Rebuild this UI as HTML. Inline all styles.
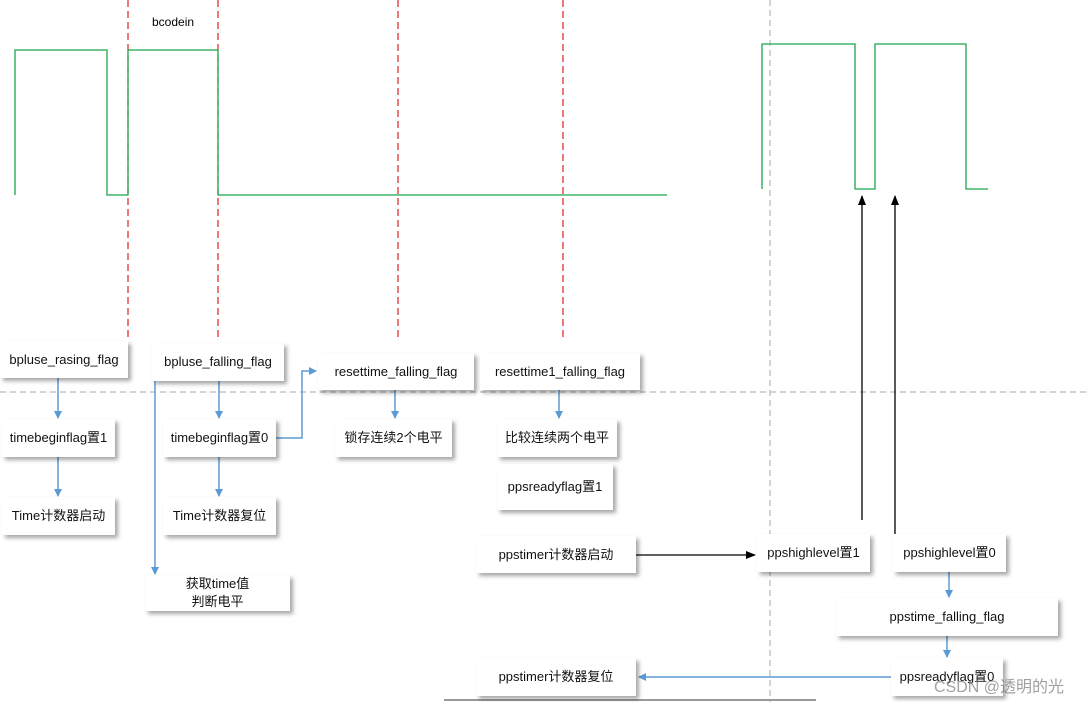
<!DOCTYPE html>
<html><head><meta charset="utf-8"><style>
body{margin:0;width:1087px;height:702px;background:#fff;position:relative;overflow:hidden;font-family:"Liberation Sans","Noto Sans CJK SC",sans-serif;}
.b{position:absolute;background:#fff;box-shadow:3px 3px 4px rgba(0,0,0,0.35);display:flex;align-items:center;justify-content:center;text-align:center;font-size:13px;color:#111;line-height:18px;}
svg{position:absolute;left:0;top:0;}
</style></head><body>
<svg width="1087" height="702">
<defs>
<marker id="bl" markerWidth="8" markerHeight="8" refX="7" refY="4" orient="auto" markerUnits="userSpaceOnUse"><path d="M0,0 L8,4 L0,8z" fill="#5b9bd5"/></marker>
<marker id="bk" markerWidth="10" markerHeight="8" refX="9" refY="4" orient="auto" markerUnits="userSpaceOnUse"><path d="M0,0 L10,4 L0,8z" fill="#000"/></marker>
</defs>
<g stroke="#e02020" stroke-dasharray="7,4" stroke-width="1.2">
<line x1="128" y1="0" x2="128" y2="340"/><line x1="218" y1="0" x2="218" y2="340"/>
<line x1="398" y1="0" x2="398" y2="340"/><line x1="563" y1="0" x2="563" y2="340"/>
</g>
<g stroke="#aaa" stroke-dasharray="6,4" stroke-width="1">
<line x1="0" y1="392" x2="1087" y2="392"/><line x1="770" y1="0" x2="770" y2="702"/>
</g>
<g fill="none" stroke="#1aa64a" stroke-width="1.3">
<polyline points="15,195 15,50 107,50 107,195 128,195 128,50 218,50 218,195 667,195"/>
<polyline points="762,189 762,44 855,44 855,189 875,189 875,44 966,44 966,189 988,189"/>
</g>
<g stroke="#5b9bd5" stroke-width="1.5" fill="none">
<line x1="58" y1="378" x2="58" y2="418" marker-end="url(#bl)"/>
<line x1="58" y1="457" x2="58" y2="496" marker-end="url(#bl)"/>
<line x1="219" y1="381" x2="219" y2="418" marker-end="url(#bl)"/>
<line x1="219" y1="457" x2="219" y2="496" marker-end="url(#bl)"/>
<line x1="155" y1="381" x2="155" y2="574" marker-end="url(#bl)"/>
<polyline points="276,438 302,438 302,371 316,371" marker-end="url(#bl)"/>
<line x1="395" y1="390" x2="395" y2="418" marker-end="url(#bl)"/>
<line x1="559" y1="390" x2="559" y2="418" marker-end="url(#bl)"/>
<line x1="949" y1="572" x2="949" y2="597" marker-end="url(#bl)"/>
<line x1="947" y1="636" x2="947" y2="657" marker-end="url(#bl)"/>
<line x1="891" y1="677" x2="639" y2="677" marker-end="url(#bl)"/>
</g>
<g stroke="#000" stroke-width="1.3">
<line x1="862" y1="520" x2="862" y2="196" marker-end="url(#bk)"/>
<line x1="895" y1="535" x2="895" y2="196" marker-end="url(#bk)"/>
<line x1="636" y1="555" x2="755" y2="555" marker-end="url(#bk)"/>
</g>
<line x1="444" y1="700" x2="816" y2="700" stroke="#999" stroke-width="2"/>
<text x="152" y="26" font-size="12" font-family="Liberation Sans,sans-serif">bcodein</text>
</svg>
<div class="b" style="left:0;top:341px;width:128px;height:37px">bpluse_rasing_flag</div>
<div class="b" style="left:152px;top:343px;width:132px;height:38px">bpluse_falling_flag</div>
<div class="b" style="left:318px;top:353px;width:156px;height:37px">resettime_falling_flag</div>
<div class="b" style="left:480px;top:353px;width:160px;height:37px">resettime1_falling_flag</div>
<div class="b" style="left:2px;top:419px;width:113px;height:38px">timebeginflag置1</div>
<div class="b" style="left:163px;top:419px;width:113px;height:38px">timebeginflag置0</div>
<div class="b" style="left:335px;top:419px;width:117px;height:38px">锁存连续2个电平</div>
<div class="b" style="left:497px;top:419px;width:120px;height:38px">比较连续两个电平</div>
<div class="b" style="left:2px;top:497px;width:113px;height:38px">Time计数器启动</div>
<div class="b" style="left:163px;top:497px;width:113px;height:38px">Time计数器复位</div>
<div class="b" style="left:497px;top:464px;width:116px;height:46px">ppsreadyflag置1</div>
<div class="b" style="left:145px;top:575px;width:145px;height:36px">获取time值<br>判断电平</div>
<div class="b" style="left:476px;top:536px;width:160px;height:37px">ppstimer计数器启动</div>
<div class="b" style="left:757px;top:534px;width:113px;height:38px">ppshighlevel置1</div>
<div class="b" style="left:893px;top:534px;width:113px;height:38px">ppshighlevel置0</div>
<div class="b" style="left:836px;top:598px;width:222px;height:38px">ppstime_falling_flag</div>
<div class="b" style="left:891px;top:658px;width:112px;height:38px">ppsreadyflag置0</div>
<div class="b" style="left:476px;top:658px;width:160px;height:38px">ppstimer计数器复位</div>
<div style="position:absolute;left:934px;top:673px;font-size:16px;color:rgba(120,120,120,0.7)">CSDN @透明的光</div>
</body></html>
